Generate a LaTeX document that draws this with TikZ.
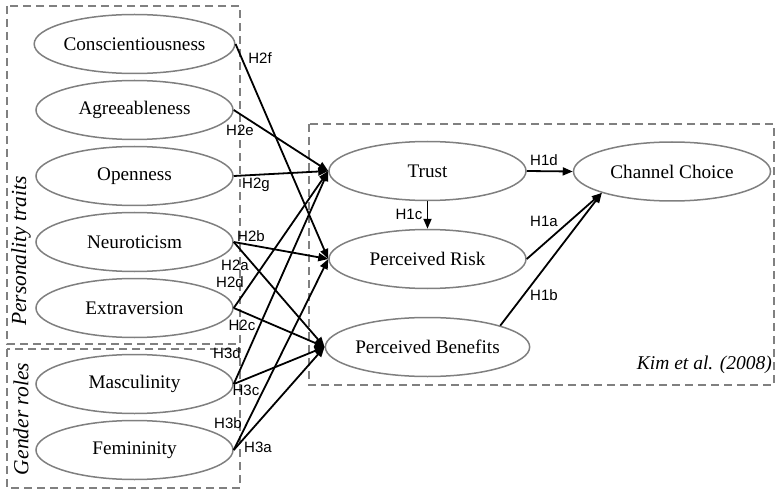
\documentclass[tikz,border=0pt]{standalone}
\usepackage{fontspec}
\setmainfont{Liberation Serif}
\newfontfamily\hfont{Liberation Sans}
\usetikzlibrary{shapes.geometric,arrows.meta}
\definecolor{ringgray}{HTML}{7F7F7F}
\definecolor{boxgray}{HTML}{808080}
\begin{document}
\begin{tikzpicture}[x=1pt,y=-1pt,
  construct/.style={ellipse,draw=ringgray,line width=1.5pt,minimum width=197pt,
    minimum height=59pt,inner sep=0pt,font=\fontsize{19.2}{21}\selectfont},
  group/.style={draw=boxgray,line width=1.8pt,dash pattern=on 8pt off 5pt},
  link/.style={draw=black,line width=1.8pt,-{Triangle[length=10pt,width=8pt]}},
  hyp/.style={font=\hfont\fontsize{15}{17}\selectfont,inner sep=0pt},
  grouplabel/.style={rotate=90,font=\itshape\fontsize{21.5}{23}\selectfont,inner sep=0pt}]
\useasboundingbox (0,0) rectangle (776,489);

% group frames
\draw[group] (7,6) rectangle (240,344);
\draw[group] (7,349) rectangle (240,488);
\draw[group] (309,124) rectangle (774,385);
\node[grouplabel] (ptlabel) at (21,251) {Personality traits};
\node[grouplabel] (grlabel) at (21,419) {Gender roles};
\node[font=\itshape\fontsize{19.5}{21}\selectfont,anchor=east,inner sep=0pt] (kim) at (772,365) {Kim et al. (2008)};

% antecedents
\node[construct] (con) at (134.5,44) {Conscientiousness};
\node[construct] (agr) at (134.5,110) {Agreeableness};
\node[construct] (ope) at (134.5,176) {Openness};
\node[construct] (neu) at (134.5,242) {Neuroticism};
\node[construct] (ext) at (134.5,308) {Extraversion};
\node[construct] (mas) at (134.5,384) {Masculinity};
\node[construct] (fem) at (134.5,450) {Femininity};

% mediators and outcome
\node[construct] (tru) at (427.5,171) {Trust};
\node[construct] (ris) at (427.5,259) {Perceived Risk};
\node[construct] (ben) at (427.5,347) {Perceived Benefits};
\node[construct] (cho) at (672,171.5) {Channel Choice};

% personality paths
\draw[link] (con.east) -- (ris.west);
\draw[link] (agr.east) -- (tru.west);
\draw[link] (ope.east) -- (tru.west);
\draw[link] (neu.east) -- (ris.west);
\draw[link] (neu.east) -- (ben.west);
\draw[link] (ext.east) -- (tru.west);
\draw[link] (ext.east) -- (ben.west);
% gender role paths
\draw[link] (mas.east) -- (tru.west);
\draw[link] (mas.east) -- (ben.west);
\draw[link] (fem.east) -- (ris.west);
\draw[link] (fem.east) -- (ben.west);
% model paths
\draw[link] (tru.east) -- (cho.west);
\draw[link] (tru.south) -- (ris.north);
\draw[link] (ris.east) -- (cho.south west);
\draw[link] (ben.north east) -- (cho.south west);

% hypothesis labels
\node[hyp] (h2f) at (260,58) {H2f};
\node[hyp] (h2e) at (240,130) {H2e};
\node[hyp] (h2g) at (256,185) {H2g};
\node[hyp] (h2b) at (251,236) {H2b};
\node[hyp] (h2a) at (235,265) {H2a};
\node[hyp] (h2d) at (230,282) {H2d};
\node[hyp] (h2c) at (242,325) {H2c};
\node[hyp] (h3d) at (227,353) {H3d};
\node[hyp] (h3c) at (246,390) {H3c};
\node[hyp] (h3b) at (228,423) {H3b};
\node[hyp] (h3a) at (258,447) {H3a};
\node[hyp] (h1d) at (544,160) {H1d};
\node[hyp] (h1c) at (409,214) {H1c};
\node[hyp] (h1a) at (544,221) {H1a};
\node[hyp] (h1b) at (544,295) {H1b};
\end{tikzpicture}
\end{document}
